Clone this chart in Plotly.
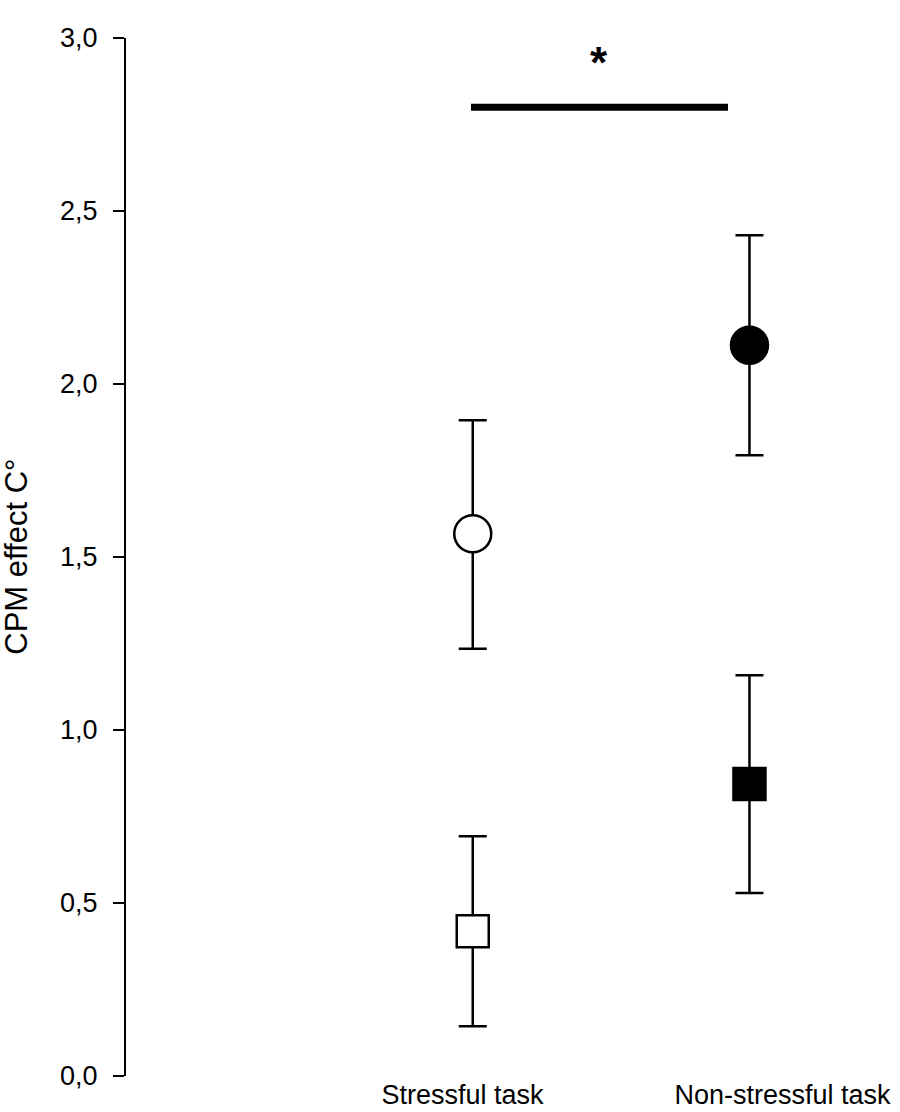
"""CPM effect by task condition: means with error bars."""

import plotly.graph_objects as go

categories = ["Stressful task", "Non-stressful task"]

# circle group (open = stressful, filled = non-stressful)
circle_mean = [1.567, 2.112]
circle_low = [1.235, 1.794]
circle_high = [1.895, 2.430]

# square group
square_mean = [0.418, 0.844]
square_low = [0.144, 0.529]
square_high = [0.693, 1.158]

y_ticks = [0.0, 0.5, 1.0, 1.5, 2.0, 2.5, 3.0]
sig_level = 2.8
sig_label = "*"

# horizontal placement of the two conditions on a 0-1 axis
marker_x = [0.448, 0.8055]
label_x = [0.4347, 0.8482]
sig_span = [0.4457, 0.7778]

FONT = "Liberation Sans, Arial, sans-serif"
fills = ["white", "black"]


def error_trace(means, lows, highs, symbol, size):
    return go.Scatter(
        x=marker_x,
        y=means,
        mode="markers",
        marker={
            "symbol": symbol,
            "size": size,
            "color": fills,
            "line": {"color": "black", "width": 2.5},
        },
        error_y={
            "type": "data",
            "symmetric": False,
            "array": [h - m for h, m in zip(highs, means)],
            "arrayminus": [m - lo for m, lo in zip(means, lows)],
            "color": "black",
            "thickness": 2.5,
            "width": 14,
        },
        showlegend=False,
        hoverinfo="skip",
    )


fig = go.Figure()
fig.add_trace(error_trace(circle_mean, circle_low, circle_high, "circle", 37))
fig.add_trace(error_trace(square_mean, square_low, square_high, "square", 32))

# significance bar
fig.add_trace(
    go.Scatter(
        x=sig_span,
        y=[sig_level, sig_level],
        mode="lines",
        line={"color": "black", "width": 7},
        showlegend=False,
        hoverinfo="skip",
    )
)

fig.add_annotation(
    x=sum(sig_span) / 2,
    y=sig_level,
    text="<b>" + sig_label + "</b>",
    showarrow=False,
    yanchor="bottom",
    yshift=18,
    font={"family": FONT, "size": 44, "color": "black"},
)

fig.add_annotation(
    x=-0.1425,
    y=0.5,
    xref="paper",
    yref="paper",
    xanchor="center",
    yanchor="middle",
    text="CPM effect C°",
    textangle=-90,
    showarrow=False,
    font={"family": FONT, "size": 31, "color": "black"},
)

fig.update_layout(
    width=900,
    height=1112,
    margin={"l": 126, "r": 0, "t": 38, "b": 36},
    plot_bgcolor="white",
    paper_bgcolor="white",
    separators=",.",
    font={"family": FONT, "color": "black"},
    xaxis={
        "range": [0, 1],
        "showline": False,
        "showgrid": False,
        "zeroline": False,
        "ticks": "",
        "tickvals": label_x,
        "ticktext": categories,
        "tickfont": {"size": 27},
        "ticklabelstandoff": 0,
        "automargin": False,
    },
    yaxis={
        "range": [0, 3],
        "showline": True,
        "linecolor": "black",
        "linewidth": 2,
        "showgrid": False,
        "zeroline": False,
        "ticks": "outside",
        "ticklen": 11,
        "tickwidth": 2,
        "tickcolor": "black",
        "tickvals": y_ticks,
        "tickformat": ".1f",
        "tickfont": {"size": 27},
        "ticklabelstandoff": 10,
        "automargin": False,
    },
)

# the page is photographed edge to edge, so drop the default body margin
fig.write_html(
    "out.html",
    config={"displayModeBar": False},
    post_script="document.body.style.margin = '0';",
)
